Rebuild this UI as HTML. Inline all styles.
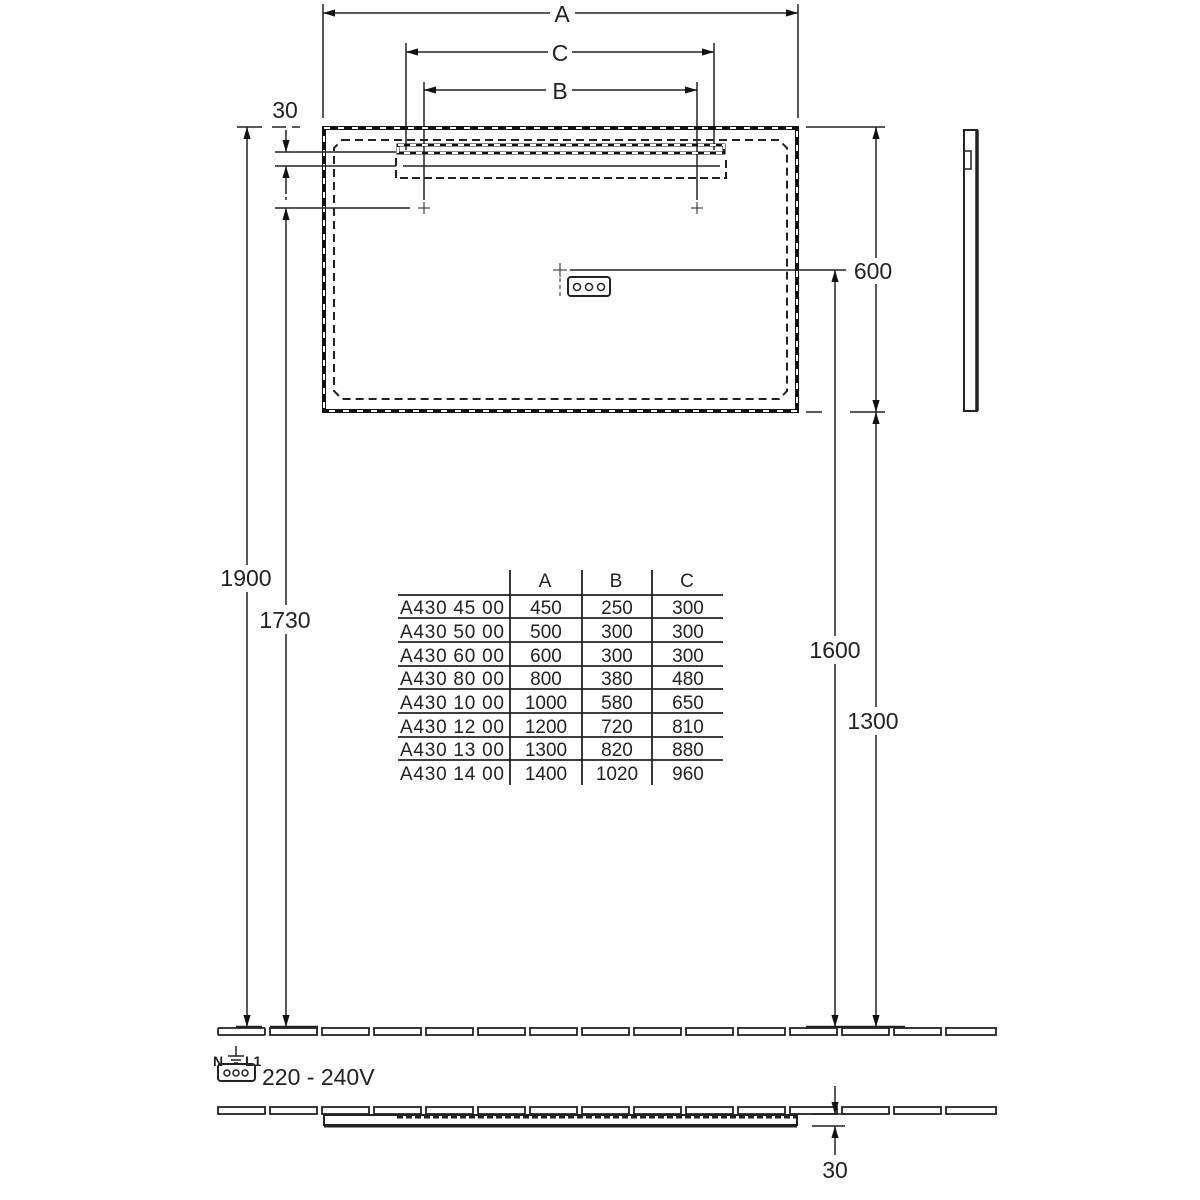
<!DOCTYPE html>
<html><head><style>body{margin:0;background:#fff}svg{display:block}text{font-family:"Liberation Sans",sans-serif;fill:#222}</style></head><body>
<svg width="1200" height="1200" viewBox="0 0 1200 1200" xmlns="http://www.w3.org/2000/svg">
<defs>
<marker id="ar" viewBox="0 0 10 10" refX="10" refY="5" markerWidth="8" markerHeight="8" orient="auto-start-reverse"><path d="M0,2 L10,5 L0,8z" fill="#111"/></marker>
</defs>
<g stroke="#222" fill="none" stroke-width="1.5">
<line x1="323" y1="4" x2="323" y2="118"/><line x1="798" y1="4" x2="798" y2="118"/>
<line x1="323" y1="13" x2="550" y2="13" marker-start="url(#ar)"/><line x1="575" y1="13" x2="798" y2="13" marker-end="url(#ar)"/>
<line x1="406" y1="43" x2="406" y2="150"/><line x1="714" y1="43" x2="714" y2="150"/>
<line x1="406" y1="52" x2="548" y2="52" marker-start="url(#ar)"/><line x1="572" y1="52" x2="714" y2="52" marker-end="url(#ar)"/>
<line x1="424" y1="82" x2="424" y2="200"/><line x1="697" y1="82" x2="697" y2="200"/>
<line x1="424" y1="90" x2="546" y2="90" marker-start="url(#ar)"/><line x1="572" y1="90" x2="697" y2="90" marker-end="url(#ar)"/>
<path d="M418 208h12M424 202v12M691 208h12M697 202v12M553 270h14M560 263v14" stroke-width="1"/>
<line x1="560" y1="278" x2="560" y2="298" stroke-dasharray="4,3" stroke-width="1"/>
<rect x="568" y="277" width="42" height="19" rx="3" stroke-width="2"/>
<circle cx="577" cy="287" r="3.5"/><circle cx="589" cy="287" r="3.5"/><circle cx="601" cy="287" r="3.5"/>
<rect x="324" y="128" width="473" height="283" stroke-width="4" stroke="#111"/>
<rect x="324" y="128" width="473" height="283" stroke-width="2" stroke="#fff" stroke-dasharray="6,8"/>
<path d="M342 140H779L787 148V391L779 399H342L334 391V148Z" stroke-dasharray="8,5" stroke-width="2"/>
<rect x="398" y="145" width="326" height="8" stroke-width="3" stroke="#111"/>
<rect x="398" y="145" width="326" height="8" stroke-width="2" stroke="#fff" stroke-dasharray="6,6"/>
<path d="M396 158V178H726V158" stroke-dasharray="8,4" stroke-width="2"/>
<line x1="403" y1="166" x2="720" y2="166"/>
<line x1="237" y1="127" x2="262" y2="127"/><line x1="272" y1="127" x2="300" y2="127" stroke-dasharray="14,6"/>
<line x1="275" y1="152" x2="396" y2="152"/><line x1="275" y1="166" x2="396" y2="166"/><line x1="275" y1="208" x2="410" y2="208"/>
<line x1="247" y1="127" x2="247" y2="565" marker-start="url(#ar)"/><line x1="247" y1="592" x2="247" y2="1027" marker-end="url(#ar)"/>
<line x1="286" y1="130" x2="286" y2="152" marker-end="url(#ar)"/><line x1="286" y1="166" x2="286" y2="190" marker-start="url(#ar)"/>
<line x1="286" y1="190" x2="286" y2="200" stroke-dasharray="4,3"/>
<line x1="286" y1="208" x2="286" y2="605" marker-start="url(#ar)"/><line x1="286" y1="634" x2="286" y2="1027" marker-end="url(#ar)"/>
<line x1="806" y1="127" x2="885" y2="127"/><line x1="806" y1="412" x2="822" y2="412"/><line x1="850" y1="412" x2="885" y2="412"/>
<line x1="876" y1="127" x2="876" y2="258" marker-start="url(#ar)"/><line x1="876" y1="284" x2="876" y2="412" marker-end="url(#ar)"/>
<line x1="876" y1="412" x2="876" y2="707" marker-start="url(#ar)"/><line x1="876" y1="735" x2="876" y2="1027" marker-end="url(#ar)"/>
<line x1="570" y1="270" x2="846" y2="270"/>
<line x1="835" y1="270" x2="835" y2="636" marker-start="url(#ar)"/><line x1="835" y1="664" x2="835" y2="1027" marker-end="url(#ar)"/>
<rect x="964" y="130" width="13" height="281" stroke-width="2"/><line x1="977" y1="130" x2="977" y2="411" stroke-width="3.5"/>
<rect x="964" y="151" width="7" height="18"/>
<g stroke-width="1.8">
<line x1="398" y1="595" x2="723" y2="595"/><line x1="398" y1="618" x2="723" y2="618"/><line x1="398" y1="642" x2="723" y2="642"/><line x1="398" y1="666" x2="723" y2="666"/><line x1="398" y1="689" x2="723" y2="689"/><line x1="398" y1="713" x2="723" y2="713"/><line x1="398" y1="737" x2="723" y2="737"/><line x1="398" y1="760" x2="723" y2="760"/>
<line x1="510" y1="570" x2="510" y2="785"/><line x1="582" y1="570" x2="582" y2="785"/><line x1="652" y1="570" x2="652" y2="785"/>
</g>
<g stroke-width="1.8">
<rect x="218" y="1028" width="47" height="7" rx="1"/><rect x="270" y="1028" width="47" height="7"/><rect x="322" y="1028" width="47" height="7"/><rect x="374" y="1028" width="47" height="7"/><rect x="426" y="1028" width="47" height="7"/><rect x="478" y="1028" width="47" height="7"/><rect x="530" y="1028" width="47" height="7"/><rect x="582" y="1028" width="47" height="7"/><rect x="634" y="1028" width="47" height="7"/><rect x="686" y="1028" width="47" height="7"/><rect x="738" y="1028" width="47" height="7"/><rect x="790" y="1028" width="47" height="7"/><rect x="842" y="1028" width="47" height="7"/><rect x="894" y="1028" width="47" height="7"/><rect x="946" y="1028" width="50" height="7"/>
<rect x="218" y="1107" width="47" height="7"/><rect x="270" y="1107" width="47" height="7"/><rect x="322" y="1107" width="47" height="7"/><rect x="374" y="1107" width="47" height="7"/><rect x="426" y="1107" width="47" height="7"/><rect x="478" y="1107" width="47" height="7"/><rect x="530" y="1107" width="47" height="7"/><rect x="582" y="1107" width="47" height="7"/><rect x="634" y="1107" width="47" height="7"/><rect x="686" y="1107" width="47" height="7"/><rect x="738" y="1107" width="47" height="7"/><rect x="790" y="1107" width="47" height="7"/><rect x="842" y="1107" width="47" height="7"/><rect x="894" y="1107" width="47" height="7"/><rect x="946" y="1107" width="50" height="7"/>
</g>
<line x1="236" y1="1027" x2="262" y2="1027" stroke-width="2.5"/><line x1="270" y1="1027" x2="318" y2="1027" stroke-width="2.5"/><line x1="806" y1="1027" x2="905" y2="1027" stroke-width="2.5"/>
<rect x="324" y="1115" width="473" height="10" stroke-width="2"/>
<line x1="324" y1="1126" x2="797" y2="1126" stroke-width="3"/>
<line x1="397" y1="1117" x2="797" y2="1117" stroke-width="3" stroke-dasharray="6,3"/>
<line x1="812" y1="1114" x2="845" y2="1114"/><line x1="812" y1="1126" x2="845" y2="1126"/>
<line x1="835" y1="1086" x2="835" y2="1114" marker-end="url(#ar)"/><line x1="835" y1="1126" x2="835" y2="1155" marker-start="url(#ar)"/>
<rect x="218" y="1064" width="37" height="17" rx="3" stroke-width="2"/>
<circle cx="227" cy="1073" r="3"/><circle cx="236" cy="1073" r="3"/><circle cx="245" cy="1073" r="3"/>
<path d="M236 1046v10M228 1056h16M231 1060h10M234 1063h4" stroke-width="1.5"/>
</g>
<g font-size="23" text-anchor="middle">
<text x="562" y="22">A</text><text x="560" y="61">C</text><text x="560" y="99">B</text>
<text x="285" y="118">30</text>
<text x="246" y="586">1900</text><text x="285" y="628">1730</text>
<text x="873" y="279">600</text><text x="835" y="658">1600</text><text x="873" y="729">1300</text>
<text x="835" y="1178">30</text>
<text x="262" y="1085" text-anchor="start">220 - 240V</text>
</g>
<text x="213" y="1066" font-size="14" font-weight="bold">N</text><text x="245" y="1066" font-size="14" font-weight="bold">L1</text>
<g font-size="19" text-anchor="middle">
<text x="545" y="587">A</text><text x="616" y="587">B</text><text x="687" y="587">C</text>
<g text-anchor="start" textLength="104"><text x="400" y="614" textLength="104">A430 45 00</text><text x="400" y="638" textLength="104">A430 50 00</text><text x="400" y="662" textLength="104">A430 60 00</text><text x="400" y="685" textLength="104">A430 80 00</text><text x="400" y="709" textLength="104">A430 10 00</text><text x="400" y="733" textLength="104">A430 12 00</text><text x="400" y="756" textLength="104">A430 13 00</text><text x="400" y="780" textLength="104">A430 14 00</text></g>
<text x="546" y="614">450</text><text x="546" y="638">500</text><text x="546" y="662">600</text><text x="546" y="685">800</text><text x="546" y="709">1000</text><text x="546" y="733">1200</text><text x="546" y="756">1300</text><text x="546" y="780">1400</text>
<text x="617" y="614">250</text><text x="617" y="638">300</text><text x="617" y="662">300</text><text x="617" y="685">380</text><text x="617" y="709">580</text><text x="617" y="733">720</text><text x="617" y="756">820</text><text x="617" y="780">1020</text>
<text x="688" y="614">300</text><text x="688" y="638">300</text><text x="688" y="662">300</text><text x="688" y="685">480</text><text x="688" y="709">650</text><text x="688" y="733">810</text><text x="688" y="756">880</text><text x="688" y="780">960</text>
</g>
</svg>
</body></html>
